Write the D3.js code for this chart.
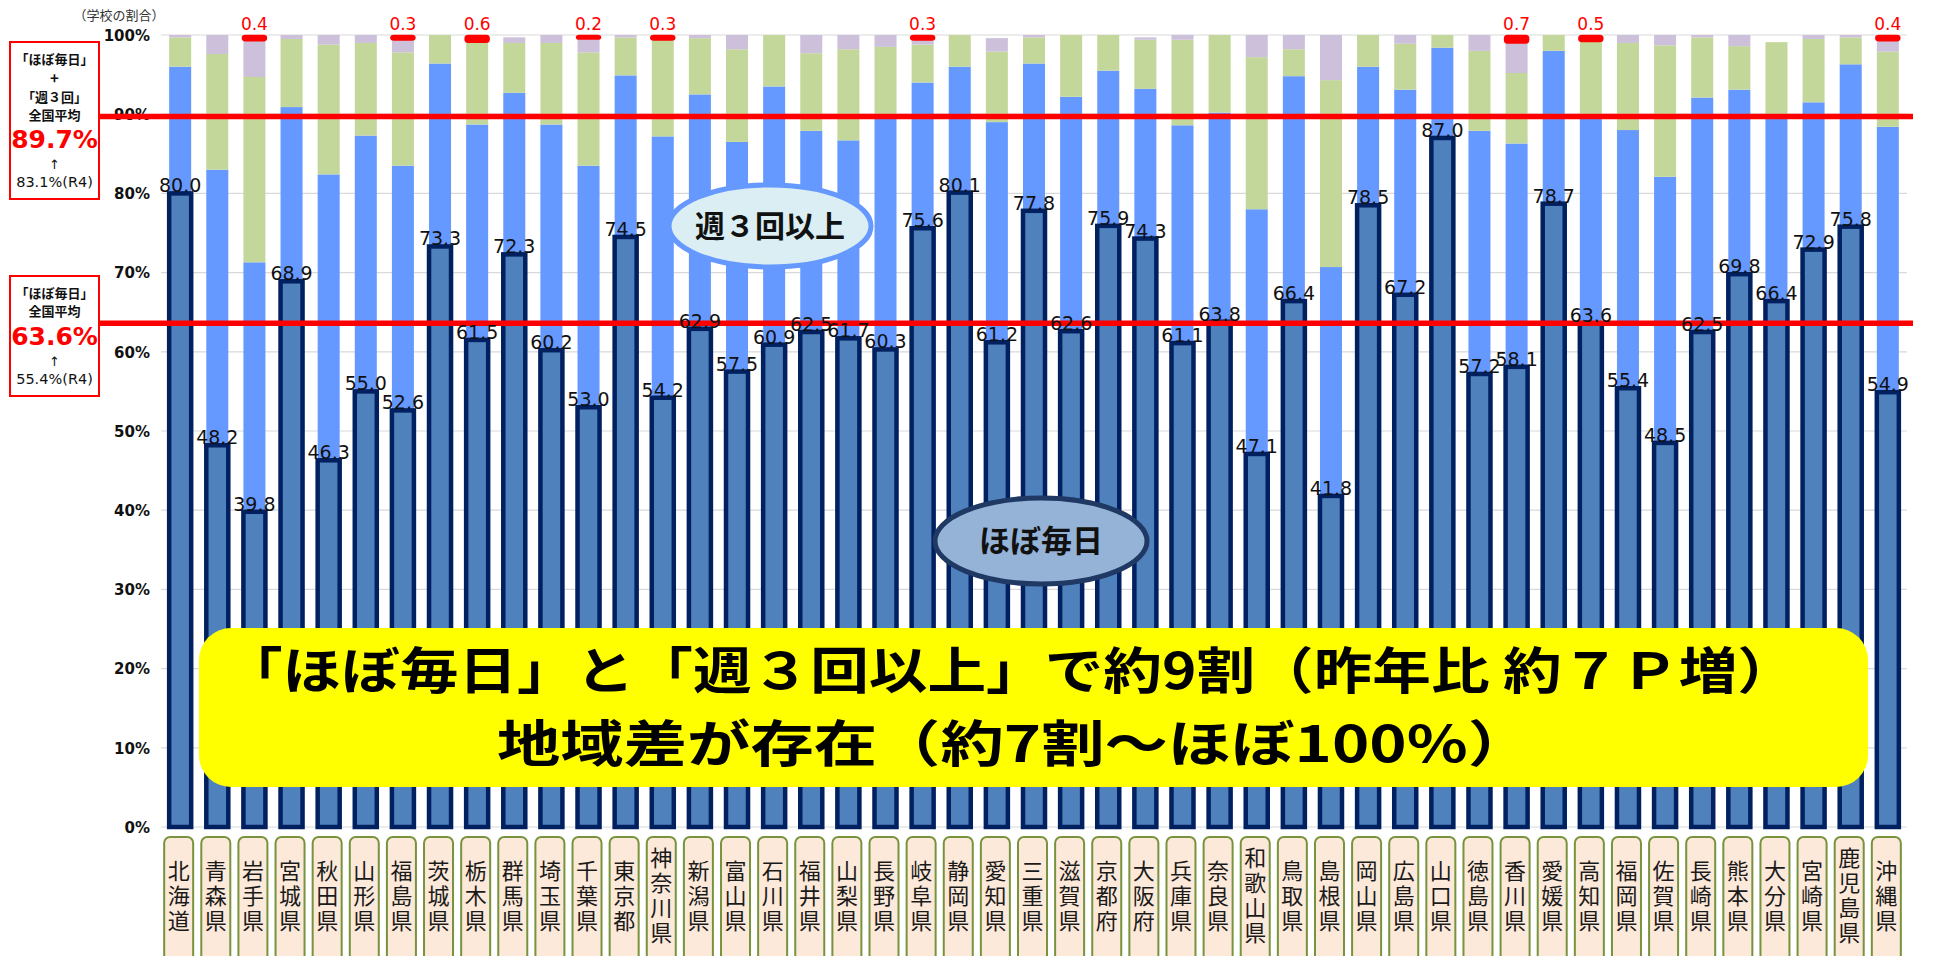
<!DOCTYPE html>
<html lang="ja">
<head>
<meta charset="utf-8">
<script src="https://cdn.jsdelivr.net/npm/d3@7"></script>
<style>
  html, body { margin: 0; padding: 0; background: #fff; }
  svg { display: block; }
</style>
</head>
<body>
<svg id="chart" width="1949" height="956"></svg>
<script>
const prefectures = ["北海道","青森県","岩手県","宮城県","秋田県","山形県","福島県","茨城県","栃木県","群馬県","埼玉県","千葉県","東京都","神奈川県","新潟県","富山県","石川県","福井県","山梨県","長野県","岐阜県","静岡県","愛知県","三重県","滋賀県","京都府","大阪府","兵庫県","奈良県","和歌山県","鳥取県","島根県","岡山県","広島県","山口県","徳島県","香川県","愛媛県","高知県","福岡県","佐賀県","長崎県","熊本県","大分県","宮崎県","鹿児島県","沖縄県"];

// ほぼ毎日
const daily = [80.0,48.2,39.8,68.9,46.3,55.0,52.6,73.3,61.5,72.3,60.2,53.0,74.5,54.2,62.9,57.5,60.9,62.5,61.7,60.3,75.6,80.1,61.2,77.8,62.6,75.9,74.3,61.1,63.8,47.1,66.4,41.8,78.5,67.2,87.0,57.2,58.1,78.7,63.6,55.4,48.5,62.5,69.8,66.4,72.9,75.8,54.9];
// 週３回以上
const weekly3 = [16.0,34.8,31.5,22.0,36.1,32.3,30.9,23.1,27.2,20.4,28.5,30.5,20.4,33.0,29.6,29.0,32.6,25.4,25.0,29.2,18.4,15.9,27.8,18.6,29.6,19.6,18.9,27.5,26.4,30.9,28.4,28.9,17.5,25.9,11.4,30.7,28.2,19.3,25.9,32.6,33.6,29.6,23.3,23.0,18.6,20.5,33.5];
// 週１～２回
const weekly1 = [3.7,14.6,23.4,8.6,16.4,11.7,14.3,3.6,10.7,6.3,10.3,14.3,4.8,12.2,7.1,11.7,6.5,9.8,11.5,9.0,4.8,4.0,8.9,3.3,7.8,4.5,6.2,10.8,9.8,19.2,3.4,23.6,4.0,5.8,1.6,10.1,8.9,2.0,10.0,11.0,16.6,7.6,5.5,9.7,8.0,3.4,9.5];
// それ以下
const rarely = [0.3,2.4,4.9,0.5,1.2,1.0,1.9,0,0,0.7,1.0,2.0,0.3,0.3,0.4,1.8,0,2.3,1.8,1.5,0.9,0,1.7,0.3,0,0,0.3,0.6,0,2.8,1.8,5.7,0,1.1,0,2.0,4.1,0,0,1.0,1.3,0.3,1.4,0,0.5,0.3,1.7];
// 実施していない
const none = [0,0,0.4,0,0,0,0.3,0,0.6,0, 0,0.2,0,0.3,0,0,0,0,0,0, 0.3,0,0,0,0,0,0,0,0,0, 0,0,0,0,0,0,0.7,0,0.5,0, 0,0,0,0,0,0,0.4];

const yTicks = [0,10,20,30,40,50,60,70,80,90,100];
const avgLines = [89.7, 63.6];

const svg = d3.select("#chart");
const JP = "'Noto Sans CJK JP', 'Noto Sans', sans-serif";
const LAT = "'DejaVu Sans', Verdana, sans-serif";

const x = d3.scaleBand().domain(prefectures).range([161, 1907]).paddingInner(0.407).paddingOuter(0.22);
const y = d3.scaleLinear().domain([0, 100]).range([827, 35]);
const bw = x.bandwidth();

// gridlines
svg.append("g").selectAll("line").data(yTicks).join("line")
  .attr("x1", 161).attr("x2", 1907)
  .attr("y1", d => y(d)).attr("y2", d => y(d))
  .attr("stroke", "#d9d9d9").attr("stroke-width", 1.2);

// y axis labels
const yAxis = d3.axisLeft(y).tickValues(yTicks).tickFormat(d => d + "%").tickSize(0).tickPadding(0);
const ga = svg.append("g").attr("transform", "translate(150,0)").call(yAxis);
ga.select(".domain").remove();
ga.selectAll("text").attr("font-family", LAT).attr("font-weight", "bold").attr("font-size", 15).attr("fill", "#111").attr("dy", "0.35em");

// stacked segments
const series = [
  {key: "weekly3", vals: weekly3, color: "#6699FF"},
  {key: "weekly1", vals: weekly1, color: "#C4D79B"},
  {key: "rarely", vals: rarely, color: "#CCC0DA"}
];
const bars = svg.append("g");
prefectures.forEach((p, i) => {
  let base = daily[i];
  series.forEach(s => {
    const v = s.vals[i];
    if (v > 0) {
      bars.append("rect")
        .attr("x", x(p)).attr("width", bw)
        .attr("y", y(base + v)).attr("height", y(base) - y(base + v))
        .attr("fill", s.color);
    }
    base += v;
  });
});

// daily bars
svg.append("g").selectAll("rect").data(prefectures).join("rect")
  .attr("x", d => x(d)).attr("width", bw)
  .attr("y", (d, i) => y(daily[i])).attr("height", (d, i) => y(0) - y(daily[i]))
  .attr("fill", "#4F81BD").attr("stroke", "#002060").attr("stroke-width", 4.5);

// red caps (none)
const capG = svg.append("g");
prefectures.forEach((p, i) => {
  if (none[i] > 0) {
    const top = daily[i] + weekly3[i] + weekly1[i] + rarely[i] + none[i];
    const bot = top - none[i];
    capG.append("rect")
      .attr("x", x(p)).attr("width", bw)
      .attr("y", y(top) + 1.5).attr("height", Math.max(1, y(bot) - y(top)))
      .attr("rx", 2)
      .attr("fill", "#FF0000").attr("stroke", "#FF0000").attr("stroke-width", 3.5).attr("stroke-linejoin", "round");
    capG.append("text")
      .attr("x", x(p) + bw / 2).attr("y", 30)
      .attr("text-anchor", "middle")
      .attr("font-family", LAT).attr("font-size", 17).attr("fill", "#FF0000")
      .text(none[i].toFixed(1));
  }
});

// average lines
svg.append("g").selectAll("line").data(avgLines).join("line")
  .attr("x1", 100).attr("x2", 1913)
  .attr("y1", d => y(d)).attr("y2", d => y(d))
  .attr("stroke", "#FF0000").attr("stroke-width", 5.5);

// daily value labels
svg.append("g").selectAll("text").data(prefectures).join("text")
  .attr("x", d => x(d) + bw / 2)
  .attr("y", (d, i) => y(daily[i]) - 1)
  .attr("text-anchor", "middle")
  .attr("font-family", LAT).attr("font-size", 19).attr("fill", "#111")
  .text((d, i) => daily[i].toFixed(1));

// category boxes, vertical text with one tspan per character
const cg = svg.append("g");
prefectures.forEach(p => {
  const cx = x(p) + bw / 2 - 1.5;
  cg.append("rect")
    .attr("x", cx - 14.5).attr("y", 837).attr("width", 29).attr("height", 140)
    .attr("rx", 6).attr("fill", "#FDE9D9").attr("stroke", "#77933C").attr("stroke-width", 2);
  const te = cg.append("text")
    .attr("x", cx).attr("y", 897)
    .attr("text-anchor", "middle")
    .style("writing-mode", "vertical-rl")
    .style("letter-spacing", "3px")
    .attr("font-family", JP).attr("font-size", 22).attr("fill", "#1a1a1a");
  Array.from(p).forEach(c => te.append("tspan").text(c));
});

// unit label
svg.append("text").attr("x", 119).attr("y", 15).attr("dy", "0.35em")
  .attr("text-anchor", "middle").attr("font-family", JP).attr("font-size", 13).attr("fill", "#333")
  .text("（学校の割合）");

// left boxes
function box(x0, y0, w, h) {
  svg.append("rect").attr("x", x0).attr("y", y0).attr("width", w).attr("height", h)
    .attr("fill", "#fff").attr("stroke", "#FF0000").attr("stroke-width", 2);
}
function multi(lines) {
  const te = svg.append("text").attr("text-anchor", "middle");
  lines.forEach(l => {
    te.append("tspan").attr("x", 54.5).attr("y", l.y + l.size * 0.36)
      .attr("font-family", l.fam || JP).attr("font-size", l.size)
      .attr("font-weight", l.w || "normal").attr("fill", l.c || "#111")
      .text(l.t);
  });
}
box(10, 42, 89, 157);
multi([
  {t: "「ほぼ毎日」", y: 59, size: 13, w: "bold"},
  {t: "+", y: 79, size: 15, w: "bold"},
  {t: "「週３回」", y: 97, size: 13, w: "bold"},
  {t: "全国平均", y: 115, size: 13, w: "bold"},
  {t: "89.7%", y: 139, size: 25, w: "bold", c: "#FF0000", fam: LAT},
  {t: "↑", y: 164, size: 13, fam: LAT},
  {t: "83.1%(R4)", y: 182, size: 14.5, fam: LAT}
]);
box(10, 276, 89, 120);
multi([
  {t: "「ほぼ毎日」", y: 293, size: 13, w: "bold"},
  {t: "全国平均", y: 311, size: 13, w: "bold"},
  {t: "63.6%", y: 336, size: 25, w: "bold", c: "#FF0000", fam: LAT},
  {t: "↑", y: 361, size: 13, fam: LAT},
  {t: "55.4%(R4)", y: 379, size: 14.5, fam: LAT}
]);

function t(txt, cx, cy, size) {
  svg.append("text").attr("x", cx).attr("y", cy).attr("dy", "0.36em")
    .attr("text-anchor", "middle").attr("font-family", JP)
    .attr("font-size", size).attr("font-weight", "bold").attr("fill", "#111").text(txt);
}

// ellipse labels
svg.append("ellipse").attr("cx", 770).attr("cy", 226).attr("rx", 101).attr("ry", 41)
  .attr("fill", "#DAEEF3").attr("stroke", "#6699FF").attr("stroke-width", 5);
t("週３回以上", 770, 226, 30);

svg.append("ellipse").attr("cx", 1041).attr("cy", 541).attr("rx", 106).attr("ry", 43)
  .attr("fill", "#95B3D7").attr("stroke", "#1F3864").attr("stroke-width", 5);
t("ほぼ毎日", 1041, 541, 31);

// yellow message box
svg.append("rect").attr("x", 199).attr("y", 628).attr("width", 1669).attr("height", 159)
  .attr("rx", 32).attr("fill", "#FFFF00");
const msg = svg.append("text").attr("text-anchor", "middle").attr("font-family", JP)
  .attr("font-weight", "bold").attr("font-size", 50).attr("fill", "#000");
msg.append("tspan").attr("x", 1010).attr("y", 671 + 50 * 0.36)
  .attr("textLength", 1572).attr("lengthAdjust", "spacingAndGlyphs")
  .text("「ほぼ毎日」と「週３回以上」で約9割（昨年比 約７Ｐ増）");
msg.append("tspan").attr("x", 1014).attr("y", 744 + 50 * 0.36)
  .attr("textLength", 1034).attr("lengthAdjust", "spacingAndGlyphs")
  .text("地域差が存在（約7割～ほぼ100%）");
</script>
</body>
</html>
